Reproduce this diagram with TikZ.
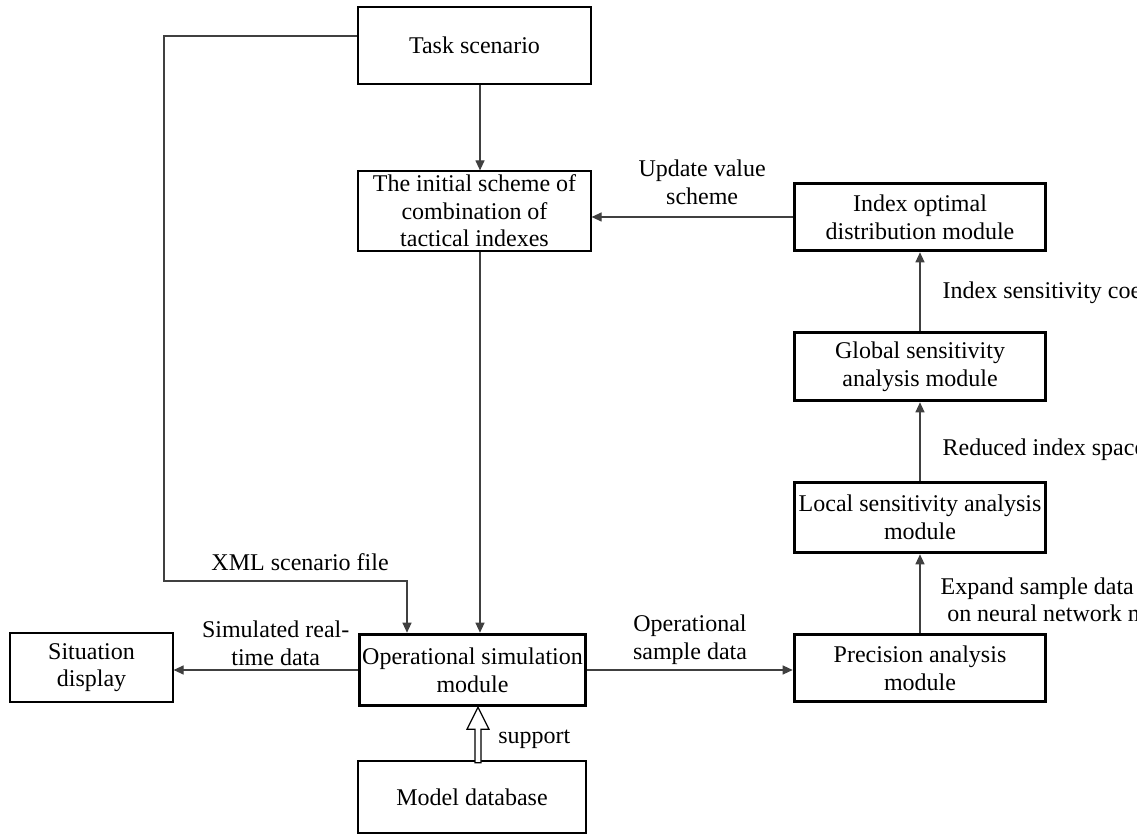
\documentclass[tikz,border=0pt]{standalone}
\usepackage{fontspec}
\setmainfont{Liberation Serif}
\usetikzlibrary{arrows.meta}

\begin{document}
\begin{tikzpicture}
[x=0.5pt, y=-0.5pt,
 font=\fontsize{12}{13.8}\selectfont,
 box/.style = {draw, line width=0.6pt, align=center, inner sep=1pt},
 modbox/.style = {box, line width=1.8pt},
 lbl/.style = {align=center, inner sep=1pt},
 arr/.style = {draw=linecolor, line width=0.6pt, -{Triangle[length=5pt,width=4.5pt]}}]

% Define line colors
\colorlet{linecolor}{black!75}

% frame of the picture, the right labels run off it
\path[use as bounding box, clip] (0,0) rectangle (1137,834);

%%%%%%%%%%% LEFT BLOCKS
\node[box, minimum width=116.5pt, minimum height=38.5pt](task) at (474.5,45.5){Task scenario};
\node[box, minimum width=116.5pt, minimum height=40pt](init) at (474.5,211){The initial scheme of\\combination of\\tactical indexes};
\node[modbox, minimum width=113pt, minimum height=35.5pt](ops) at (472.5,670){Operational simulation\\module};
\node[box, minimum width=114pt, minimum height=36pt](model) at (472,797){Model database};
\node[box, minimum width=81.5pt, minimum height=34.5pt](situation) at (91.5,667.5){Situation\\display};

%%%%%%%%%%% MODULES
\node[modbox, minimum width=125.5pt, minimum height=33.5pt](idx) at (920,217){Index optimal\\distribution module};
\node[modbox, minimum width=125.5pt, minimum height=34pt](global) at (920,366.5){Global sensitivity\\analysis module};
\node[modbox, minimum width=125.5pt, minimum height=35pt](local) at (920,517.5){Local sensitivity analysis\\module};
\node[modbox, minimum width=125.5pt, minimum height=33.5pt](precision) at (920,668){Precision analysis\\module};

%%%%%%%%%%% CONNECTIONS
\coordinate (midx) at (480,0);
\coordinate (xmlx) at (407,0);
\coordinate (supx) at (478,0);
\coordinate (xmlbend) at (164,581);

\draw[arr] (task.south -| midx) -- (init.north -| midx);
\draw[arr] (init.south -| midx) -- (ops.north -| midx);
\draw[arr] ([yshift=4.75pt]task.west) -| (xmlbend) -- node[lbl, above=4pt, pos=0.56]{XML scenario file} (xmlbend -| xmlx) -- (ops.north -| xmlx);
\draw[arr] (idx.west) -- node[lbl, above=5pt, xshift=5pt]{Update value\\scheme} (init.east |- idx.west);
\draw[arr] (global.north) -- node[lbl, right=10pt, pos=0.48]{Index sensitivity coefficient} (idx.south);
\draw[arr] (local.north) -- node[lbl, right=10pt, pos=0.4]{Reduced index space} (global.south);
\draw[arr] (precision.north) -- node[lbl, right=9pt, pos=0.42]{Expand sample data based\\on neural network model} (local.south);
\draw[arr] (ops.east) -- node[lbl, above=1.5pt]{Operational\\sample data} (precision.west |- ops.east);
\draw[arr] (ops.west) -- node[lbl, above=1pt, xshift=5pt]{Simulated real-\\time data} (situation.east |- ops.west);

% hollow support arrow
\draw[line width=0.6pt, fill=white] (ops.south -| supx) -- ++(11,22) -- ++(-8,0) -- ++(0,33.5) -- ++(-6,0) -- ++(0,-33.5) -- ++(-8,0) -- cycle;
\path (ops.south -| supx) -- node[lbl, right=9pt, pos=0.6]{support} (model.north -| supx);

\end{tikzpicture}
\end{document}
